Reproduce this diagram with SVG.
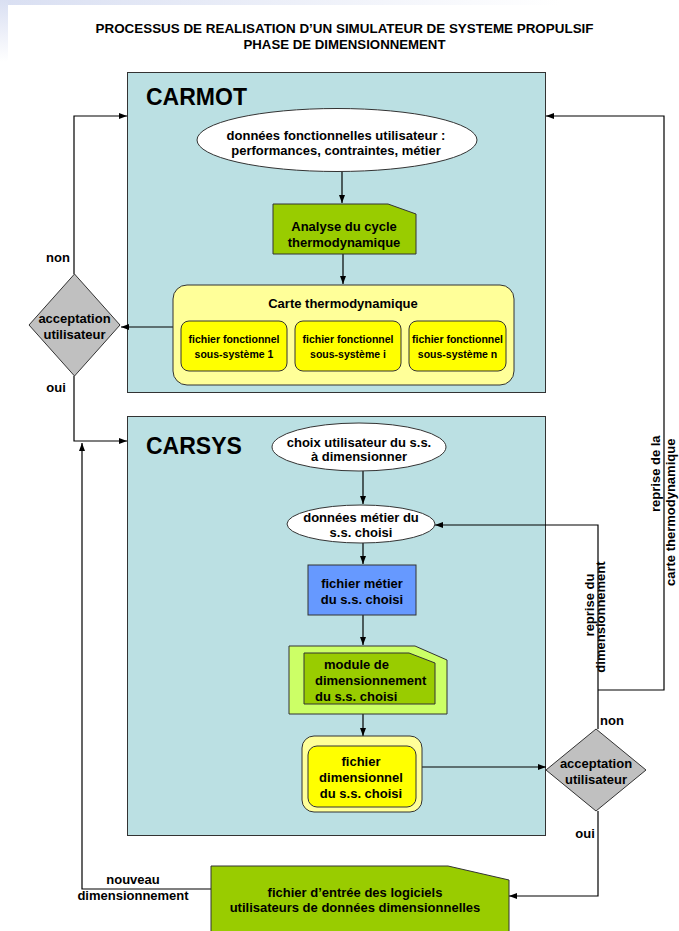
<svg xmlns="http://www.w3.org/2000/svg" width="679" height="931" viewBox="0 0 679 931">
<style>
text{font-family:"Liberation Sans",Arial,sans-serif;font-weight:bold;fill:#000;}
.c{text-anchor:middle;}
.t13{font-size:13px;}
.t10{font-size:10.5px;}
.big{font-size:23px;}
.frame{fill:#bbe0e3;stroke:#333;stroke-width:1;}
.node{stroke:#333;stroke-width:1;}
.ln{fill:none;stroke:#000;stroke-width:1.2;}
</style>
<defs>
<marker id="arr" markerWidth="9" markerHeight="7" refX="8" refY="3" orient="auto" markerUnits="userSpaceOnUse">
<path d="M0,0 L8,3 L0,6 z" fill="#000"/>
</marker>
<linearGradient id="gTop" x1="0" y1="0" x2="1" y2="0">
<stop offset="0" stop-color="#d9dff2"/>
<stop offset="1" stop-color="#ffffff"/>
</linearGradient>
<linearGradient id="gLeft" x1="0" y1="0" x2="0" y2="1">
<stop offset="0" stop-color="#d9dff2"/>
<stop offset="1" stop-color="#ffffff"/>
</linearGradient>
</defs>
<rect x="0" y="0" width="679" height="931" fill="#fff"/>
<rect x="0" y="0" width="560" height="5" fill="url(#gTop)"/>
<rect x="0" y="0" width="8" height="62" fill="url(#gLeft)"/>

<g id="title">
<text class="c t13" x="344.5" y="33" textLength="498" lengthAdjust="spacingAndGlyphs">PROCESSUS DE REALISATION D’UN SIMULATEUR DE SYSTEME PROPULSIF</text>
<text class="c t13" x="344.5" y="48.5" textLength="202" lengthAdjust="spacingAndGlyphs">PHASE DE DIMENSIONNEMENT</text>
</g>

<g id="carmot">
<rect class="frame" x="127.5" y="72.5" width="418" height="320"/>
<text class="big" x="146" y="105">CARMOT</text>
</g>
<g id="carsys">
<rect class="frame" x="127.5" y="416.5" width="418" height="419"/>
<text class="big" x="146" y="454">CARSYS</text>
</g>

<g id="connectors">
<path class="ln" d="M342,171 L342,203" marker-end="url(#arr)"/>
<path class="ln" d="M343,254 L343,284" marker-end="url(#arr)"/>
<path class="ln" d="M173,327 L121,327" marker-end="url(#arr)"/>
<path class="ln" d="M74,274 L74,116 L127,116" marker-end="url(#arr)"/>
<path class="ln" d="M74,376 L74,441 L127,441" marker-end="url(#arr)"/>
<path class="ln" d="M363,471 L363,504" marker-end="url(#arr)"/>
<path class="ln" d="M363,543 L363,564" marker-end="url(#arr)"/>
<path class="ln" d="M363,615 L363,645" marker-end="url(#arr)"/>
<path class="ln" d="M363,714 L363,736" marker-end="url(#arr)"/>
<path class="ln" d="M422,767 L546,767" marker-end="url(#arr)"/>
<path class="ln" d="M598,729 L598,525 L435,525" marker-end="url(#arr)"/>
<path class="ln" d="M598,690 L664,690 L664,116 L546,116" marker-end="url(#arr)"/>
<path class="ln" d="M598,811 L598,896 L509,896" marker-end="url(#arr)"/>
<path class="ln" d="M211,889 L82,889 L82,443" marker-end="url(#arr)"/>
</g>

<g id="donnees-fonctionnelles">
<ellipse class="node" cx="337" cy="140" rx="140" ry="31.5" fill="#fff"/>
<text class="c t13" x="336" y="139.5">données fonctionnelles utilisateur :</text>
<text class="c t13" x="336" y="154.5">performances, contraintes, métier</text>
</g>

<g id="analyse">
<polygon class="node" points="273,204 388,204 416,214 416,254 273,254" fill="#99cc00"/>
<text class="c t13" x="344" y="230.5">Analyse du cycle</text>
<text class="c t13" x="344" y="246.5">thermodynamique</text>
</g>

<g id="carte-thermo">
<rect class="node" x="173" y="285" width="341" height="100" rx="14" fill="#ffff99"/>
<text class="c t13" x="343" y="307.5">Carte thermodynamique</text>
</g>
<g id="ss1">
<rect class="node" x="181" y="321" width="106" height="50" rx="8" fill="#ffff00"/>
<text class="c t10" x="234" y="343">fichier fonctionnel</text>
<text class="c t10" x="234" y="357.5">sous-système 1</text>
</g>
<g id="ssi">
<rect class="node" x="295" y="321" width="106" height="50" rx="8" fill="#ffff00"/>
<text class="c t10" x="348" y="343">fichier fonctionnel</text>
<text class="c t10" x="348" y="357.5">sous-système i</text>
</g>
<g id="ssn">
<rect class="node" x="409" y="321" width="97" height="50" rx="8" fill="#ffff00"/>
<text class="c t10" x="457.5" y="343">fichier fonctionnel</text>
<text class="c t10" x="457.5" y="357.5">sous-système n</text>
</g>

<g id="acceptation-1">
<polygon class="node" points="74.5,274 120,325 74.5,376 29,325" fill="#c0c0c0"/>
<text class="c t13" x="74.5" y="322.5">acceptation</text>
<text class="c t13" x="74.5" y="338.5">utilisateur</text>
<text class="c t13" x="58" y="262">non</text>
<text class="c t13" x="56" y="392">oui</text>
</g>

<g id="choix">
<ellipse class="node" cx="359" cy="447" rx="87" ry="24" fill="#fff"/>
<text class="c t13" x="359" y="446.5">choix utilisateur du s.s.</text>
<text class="c t13" x="359" y="460.5">à dimensionner</text>
</g>

<g id="donnees-metier">
<ellipse class="node" cx="361" cy="524" rx="74" ry="19" fill="#fff"/>
<text class="c t13" x="361" y="521.5">données métier du</text>
<text class="c t13" x="361" y="536.5">s.s. choisi</text>
</g>

<g id="fichier-metier">
<rect class="node" x="308" y="565" width="108" height="50" fill="#6699ff"/>
<text class="c t13" x="362" y="587.5">fichier métier</text>
<text class="c t13" x="362" y="603.5">du s.s. choisi</text>
</g>

<g id="module">
<polygon class="node" points="289,646 415,646 447,660 447,714 289,714" fill="#ccff66"/>
<polygon class="node" points="304,653 409,653 435,663 435,704 304,704" fill="#99cc00"/>
<text class="t13" x="324" y="668.5">module de</text>
<text class="t13" x="315" y="684.5">dimensionnement</text>
<text class="t13" x="315" y="700.5">du s.s. choisi</text>
</g>

<g id="fichier-dimensionnel">
<rect class="node" x="302" y="736" width="120" height="76" rx="12" fill="#ffff99"/>
<rect class="node" x="308" y="746" width="108" height="61" rx="9" fill="#ffff00"/>
<text class="c t13" x="361" y="765.5">fichier</text>
<text class="c t13" x="361" y="781.5">dimensionnel</text>
<text class="c t13" x="361" y="797.5">du s.s. choisi</text>
</g>

<g id="acceptation-2">
<polygon class="node" points="596,729 646,770 596,811 546,770" fill="#c0c0c0"/>
<text class="c t13" x="596" y="767.5">acceptation</text>
<text class="c t13" x="596" y="783.5">utilisateur</text>
<text class="t13" x="600" y="725">non</text>
<text class="c t13" x="585" y="838">oui</text>
</g>

<g id="labels">
<text class="c t13" transform="translate(594,605) rotate(-90)">reprise du</text>
<text class="c t13" transform="translate(605,617) rotate(-90)">dimensionnement</text>
<text class="t13" transform="translate(660,512) rotate(-90)">reprise de la</text>
<text class="t13" transform="translate(675,586) rotate(-90)">carte thermodynamique</text>
<text class="c t13" x="133" y="884">nouveau</text>
<text class="c t13" x="133" y="900">dimensionnement</text>
</g>

<g id="fichier-entree">
<polygon class="node" points="211,866 448,866 509,880 509,935 211,935" fill="#99cc00"/>
<text class="c t13" x="355" y="897">fichier d’entrée des logiciels</text>
<text class="c t13" x="355" y="912">utilisateurs de données dimensionnelles</text>
</g>
</svg>
